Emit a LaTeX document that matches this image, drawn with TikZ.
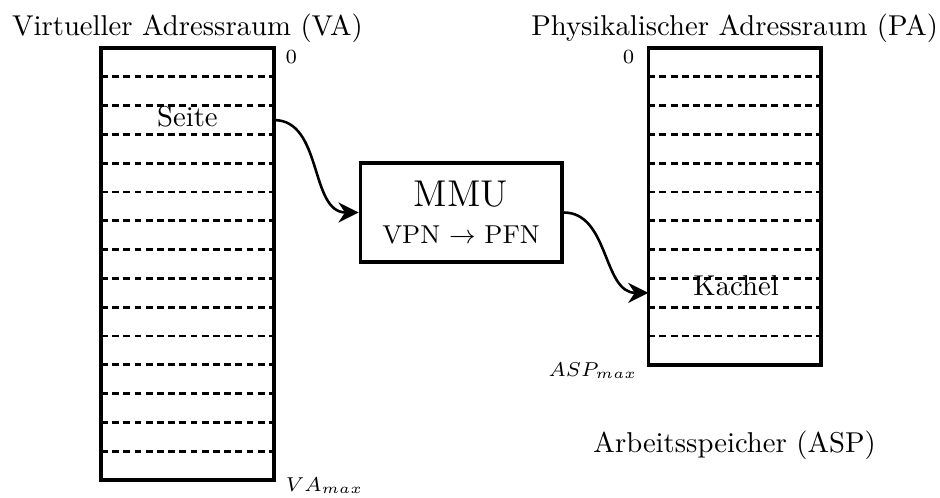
\documentclass[tikz,border=0pt]{standalone}
\usetikzlibrary{arrows.meta}

\begin{document}
\begin{tikzpicture}[>={Stealth[length=7pt,width=7pt]}, scale=.3527,
		rahmen/.style={very thick},
		trenner/.style={line width=1pt, dash pattern=on 2.4pt off 1.5pt},
		pfeil/.style={->, line width=0.9pt}]
		\useasboundingbox (-3.507,1.667) rectangle (29.13,-15.59);
		
		\draw[rahmen] (0,0) rectangle (6,-15);
		\foreach \y in {1,2,...,14}
		{
			\draw[trenner] (0,-\y)--(6,-\y);
		}
		\draw[rahmen] (19,0) rectangle (25,-11);
		\foreach \y in {1,2,...,10}
		{
			\draw[trenner] (19,-\y)--(25,-\y);
		}
		
		\node[anchor=base] (vatitel) at (3,0.45) {Virtueller Adressraum (VA)};
		\node[anchor=base] (patitel) at (22,0.45) {Physikalischer Adressraum (PA)};
		\node[anchor=base] (vanull) at (6.61,-0.52) {\scriptsize 0};
		\node[anchor=base] (panull) at (18.32,-0.52) {\scriptsize 0};
		\node[anchor=base] (vamax) at (7.76,-15.38) {\scriptsize $VA_{max}$};
		\node[anchor=base] (aspmax) at (17.08,-11.39) {\scriptsize $ASP_{max}$};
		\node[anchor=base] (asp) at (22,-14.03) {Arbeitsspeicher (ASP)};
		\node (seite) at (3,-2.4) {Seite};
		\node (kachel) at (22.05,-8.25) {Kachel};
		
		\node[rahmen, draw, minimum width=2.469cm, minimum height=1.213cm, align=center] (mmu) at (12.5,-5.71)
			{{\fontsize{13}{15}\selectfont MMU}\\[1pt]\small VPN $\rightarrow$ PFN};
		
		\coordinate (seiterand) at (6,-2.5);
		\coordinate (kachelrand) at (19,-8.5);
		\draw[pfeil] (seiterand) to[out=0,in=180] (mmu.west);
		\draw[pfeil] (mmu.east) to[out=0,in=180] (kachelrand);
	\end{tikzpicture}
\end{document}
